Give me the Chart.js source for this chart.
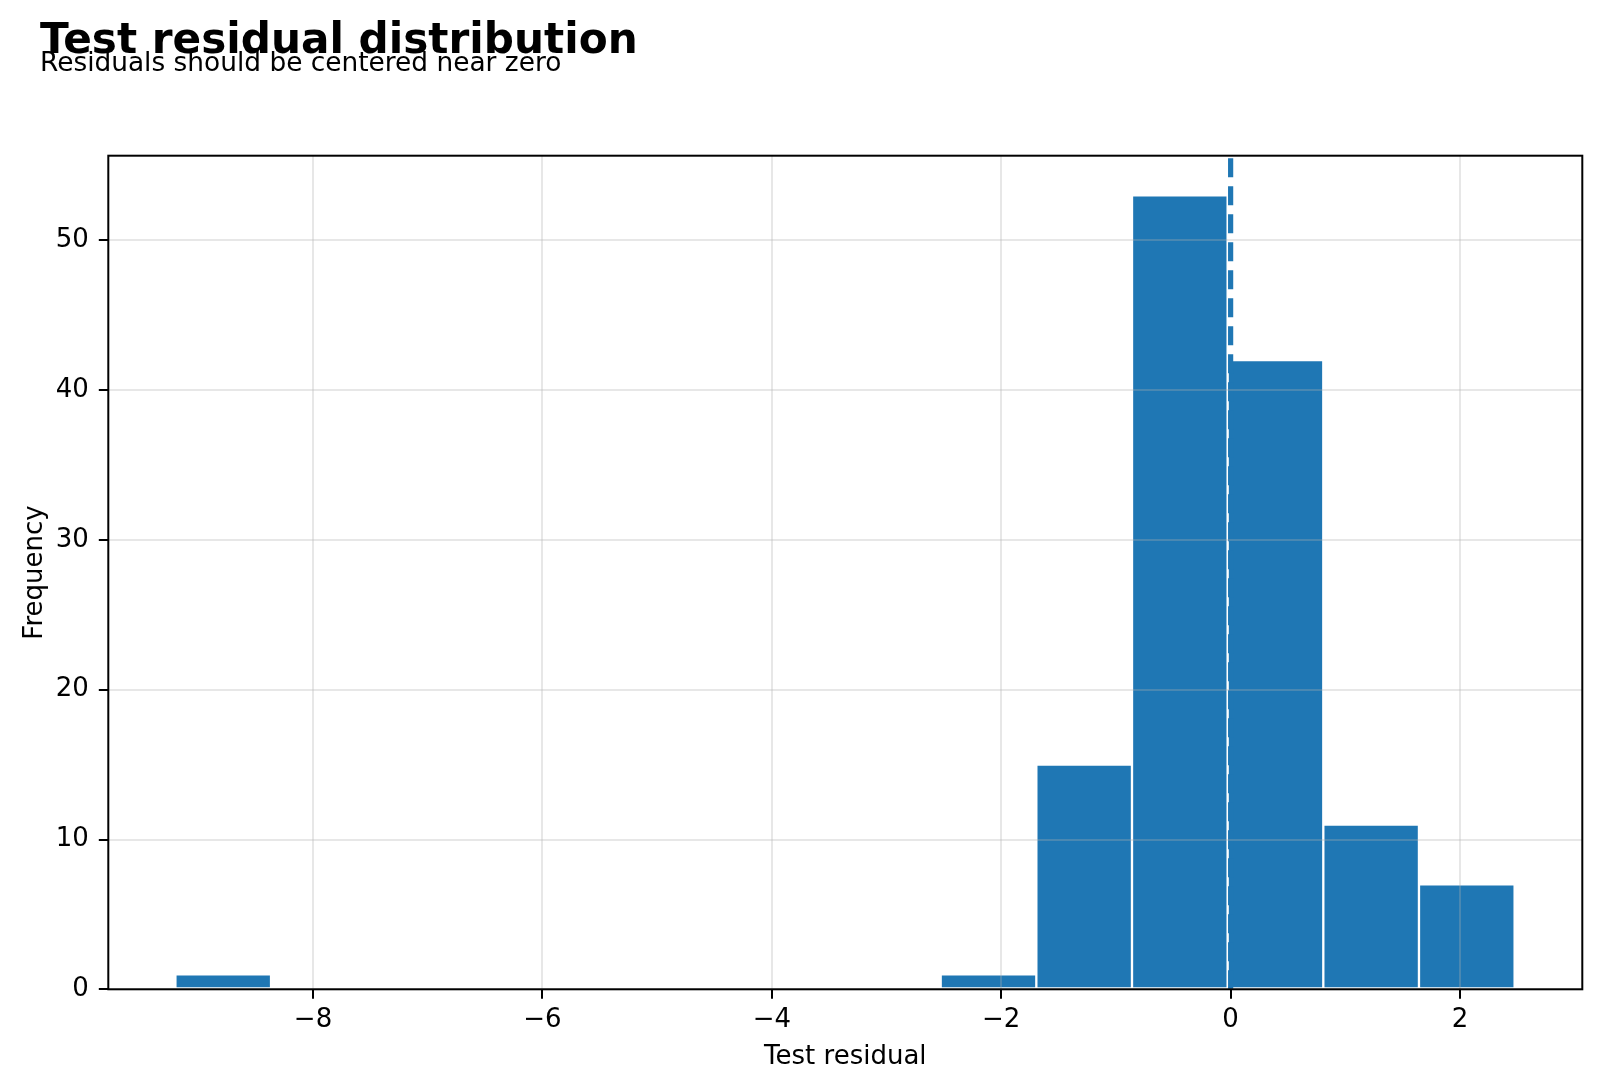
<!DOCTYPE html>
<html>
<head>
<meta charset="utf-8">
<script src="https://cdn.jsdelivr.net/npm/chart.js@4.4.1/dist/chart.umd.min.js"></script>
<style>
    html, body { margin: 0; padding: 0; background: #fff; }
    #wrap { width: 1600px; height: 1091px; }
</style>
</head>
<body>
<div id="wrap"><canvas id="chart" width="1600" height="1091"></canvas></div>
<script>
// histogram bins
const binEdges = [-9.200, -8.366, -7.532, -6.698, -5.864, -5.030, -4.196, -3.362, -2.528, -1.694, -0.860, -0.026, 0.808, 1.642, 2.476]
const counts = [1, 0, 0, 0, 0, 0, 0, 0, 1, 15, 53, 42, 11, 7]
const xTicks = [-8, -6, -4, -2, 0, 2]
const yTicks = [0, 10, 20, 30, 40, 50]
const zeroLineX = 0

const xLimits = [-9.785, 3.066]
const yLimits = [0, 55.65]

const blue = '#1f77b4'
const gridColor = 'rgba(176, 176, 176, 0.3)'

Chart.defaults.font.family = "'DejaVu Sans', sans-serif"
Chart.defaults.color = '#000'

const fmt = v => v < 0 ? '\u2212' + Math.abs(v) : String(v)

// matplotlib-style box round the axes
const frame = {
    id: 'frame',
    afterDraw(chart) {
        const { ctx, chartArea: a } = chart
        ctx.save()
        ctx.strokeStyle = '#000'
        ctx.lineWidth = 2
        ctx.strokeRect(a.left, a.top, a.right - a.left, a.bottom - a.top)
        ctx.restore()
    }
}

const bars = counts.map((c, i) => ({ x: (binEdges[i] + binEdges[i + 1]) / 2, y: c }))

new Chart(document.getElementById('chart').getContext('2d'), {
    type: 'bar',
    data: {
        datasets: [
            {
                type: 'line',
                data: [{ x: zeroLineX, y: yLimits[0] }, { x: zeroLineX, y: yLimits[1] }],
                borderColor: blue,
                borderWidth: 5.2,
                borderDash: [19, 9],
                borderCapStyle: 'butt',
                pointRadius: 0,
                fill: false,
                order: 0
            },
            {
                data: bars,
                backgroundColor: blue,
                borderColor: '#fff',
                borderWidth: 1.5,
                borderSkipped: false,
                barPercentage: 1,
                categoryPercentage: 1,
                order: 1
            }
        ]
    },
    options: {
        responsive: false,
        animation: false,
        devicePixelRatio: 1,
        events: [],
        layout: { padding: { left: 40, right: 17.7, top: 0, bottom: 0 } },
        plugins: {
            legend: { display: false },
            tooltip: { enabled: false },
            title: {
                display: true,
                text: 'Test residual distribution',
                align: 'start',
                color: '#000',
                font: { size: 42.2, weight: 'bold', lineHeight: 1 },
                padding: { top: 20.7, bottom: 0 }
            },
            subtitle: {
                display: true,
                text: 'Residuals should be centered near zero',
                align: 'start',
                color: '#000',
                font: { size: 26.4, lineHeight: 1 },
                padding: { top: -11.6, bottom: 78 }
            }
        },
        scales: {
            x: {
                type: 'linear',
                position: 'bottom',
                min: xLimits[0],
                max: xLimits[1],
                offset: false,
                afterBuildTicks: s => { s.ticks = xTicks.map(v => ({ value: v })) },
                afterFit: s => { s.height = 101.7 },
                ticks: { font: { size: 26, lineHeight: 1 }, padding: 8, color: '#000', callback: fmt, maxRotation: 0, autoSkip: false },
                grid: {
                    // grid sits over the bars, but not over the dashed zero line
                    color: c => c.tick && c.tick.value === zeroLineX ? 'rgba(0,0,0,0)' : gridColor,
                    lineWidth: 2, z: 1, offset: false, tickLength: 9.5, tickColor: '#000', tickWidth: 2
                },
                border: { display: false },
                title: { display: true, text: 'Test residual', color: '#000', font: { size: 26, lineHeight: 1 }, padding: { top: 0, bottom: 21 } }
            },
            y: {
                min: yLimits[0],
                max: yLimits[1],
                afterBuildTicks: s => { s.ticks = yTicks.map(v => ({ value: v })) },
                afterFit: s => { s.width = 68.3 },
                ticks: { font: { size: 26, lineHeight: 1 }, padding: 10, color: '#000', callback: fmt },
                grid: { color: gridColor, lineWidth: 2, z: 1, tickLength: 9.5, tickColor: '#000', tickWidth: 2 },
                border: { display: false },
                title: { display: true, text: 'Frequency', color: '#000', font: { size: 26, lineHeight: 1 }, padding: { top: -17.3, bottom: 0 } }
            }
        }
    },
    plugins: [frame]
})
</script>
</body>
</html>
